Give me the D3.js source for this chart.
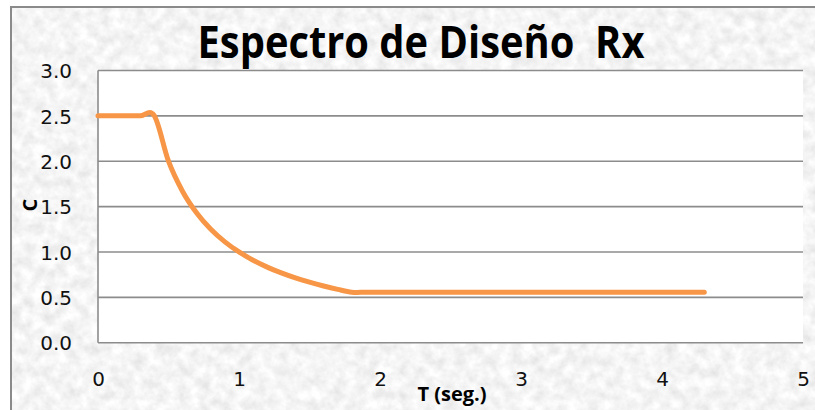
<!DOCTYPE html>
<html>
<head>
<meta charset="utf-8">
<script src="https://cdn.jsdelivr.net/npm/d3@7"></script>
<style>
  html, body { margin: 0; padding: 0; background: #ffffff; }
  svg { display: block; }
</style>
</head>
<body>
<svg id="chart" width="815" height="410"></svg>
<script>
// Design spectrum: period T (s) against coefficient C
const periods = [0, 0.1, 0.2, 0.3, 0.4, 0.5, 0.6, 0.7, 0.8, 0.9, 1.0,
                 1.1, 1.2, 1.3, 1.4, 1.5, 1.6, 1.7, 1.8, 1.9, 2.0,
                 2.5, 3.0, 3.5, 4.0, 4.3];
const cValues = [2.5, 2.5, 2.5, 2.5, 2.5, 2.0, 1.667, 1.429, 1.25, 1.111, 1.0,
                 0.909, 0.833, 0.769, 0.714, 0.667, 0.625, 0.588, 0.556, 0.556, 0.556,
                 0.556, 0.556, 0.556, 0.556, 0.556];
const xTicks = [0, 1, 2, 3, 4, 5];
const yTicks = [0, 0.5, 1.0, 1.5, 2.0, 2.5, 3.0];
const titleText = "Espectro de Diseño  Rx";
const xLabel = "T (seg.)";
const yLabel = "C";

const svg = d3.select("#chart");
const W = 815, H = 410;
const plot = { left: 98, right: 803, top: 70.5, bottom: 342.7 };

// Mottled grey backdrop of the chart area
const defs = svg.append("defs");
const f = defs.append("filter").attr("id", "paper")
  .attr("x", 0).attr("y", 0).attr("width", "100%").attr("height", "100%");
f.append("feTurbulence").attr("type", "fractalNoise")
  .attr("baseFrequency", "0.09").attr("numOctaves", 4).attr("seed", 7);
f.append("feColorMatrix").attr("type", "matrix")
  .attr("values", "0.34 0 0 0 0.74  0.34 0 0 0 0.74  0.34 0 0 0 0.74  0 0 0 0 1");

svg.append("rect").attr("x", 11).attr("y", 7).attr("width", W).attr("height", H)
  .attr("filter", "url(#paper)");
svg.append("path")
  .attr("d", `M11,${H} L11,7 L${W},7`)
  .attr("fill", "none").attr("stroke", "#8a8a8a").attr("stroke-width", 2);

const x = d3.scaleLinear().domain([0, 5]).range([plot.left, plot.right]);
const y = d3.scaleLinear().domain([0, 3]).range([plot.bottom, plot.top]);

// Plot area
svg.append("rect")
  .attr("x", plot.left).attr("y", plot.top)
  .attr("width", plot.right - plot.left).attr("height", plot.bottom - plot.top)
  .attr("fill", "#ffffff");

// Horizontal gridlines
svg.append("g").selectAll("line").data(yTicks).join("line")
  .attr("x1", plot.left).attr("x2", plot.right)
  .attr("y1", d => y(d)).attr("y2", d => y(d))
  .attr("stroke", "#8c8c8c").attr("stroke-width", 1.6);

// Vertical axis line
svg.append("line")
  .attr("x1", plot.left).attr("x2", plot.left)
  .attr("y1", plot.top).attr("y2", plot.bottom)
  .attr("stroke", "#8c8c8c").attr("stroke-width", 1.6);

const tickFont = "'DejaVu Sans', sans-serif";

// Y axis labels
const gy = svg.append("g").attr("transform", `translate(${plot.left},0)`)
  .call(d3.axisLeft(y).tickValues(yTicks).tickFormat(d3.format(".1f"))
    .tickSize(0).tickPadding(26));
gy.select(".domain").remove();
gy.selectAll("text").attr("font-family", tickFont).attr("font-size", 20)
  .attr("fill", "#111").attr("dy", "0.36em");

// X axis labels
const gx = svg.append("g").attr("transform", `translate(0,${plot.bottom})`)
  .call(d3.axisBottom(x).tickValues(xTicks).tickFormat(d3.format("d"))
    .tickSize(0).tickPadding(29));
gx.select(".domain").remove();
gx.selectAll("text").attr("font-family", tickFont).attr("font-size", 20)
  .attr("fill", "#111");

// Spectrum curve
const pts = periods.map((t, i) => [t, cValues[i]]);
svg.append("path").datum(pts)
  .attr("fill", "none")
  .attr("stroke", "#f79646")
  .attr("stroke-width", 5)
  .attr("stroke-linecap", "round")
  .attr("stroke-linejoin", "round")
  .attr("d", d3.line().x(d => x(d[0])).y(d => y(d[1])).curve(d3.curveCardinal.tension(0)));

// Title, condensed horizontally to its set width
const title = svg.append("text")
  .attr("font-family", "'Open Sans', sans-serif")
  .attr("font-weight", "bold").attr("font-size", 45)
  .attr("fill", "#000")
  .attr("text-anchor", "middle")
  .style("white-space", "pre")
  .attr("xml:space", "preserve")
  .text(titleText);
const tw = title.node().getComputedTextLength();
const sx = 447 / tw;
title.attr("transform", `translate(421,58) scale(${sx},1)`);

// Axis titles
svg.append("text")
  .attr("x", 452).attr("y", 401)
  .attr("text-anchor", "middle")
  .attr("font-family", "'Open Sans', sans-serif")
  .attr("font-weight", "bold").attr("font-size", 20)
  .attr("fill", "#000")
  .text(xLabel);

svg.append("text")
  .attr("transform", "translate(37,205) rotate(-90)")
  .attr("text-anchor", "middle")
  .attr("font-family", "'Open Sans', sans-serif")
  .attr("font-weight", "bold").attr("font-size", 20)
  .attr("fill", "#000")
  .text(yLabel);
</script>
</body>
</html>
